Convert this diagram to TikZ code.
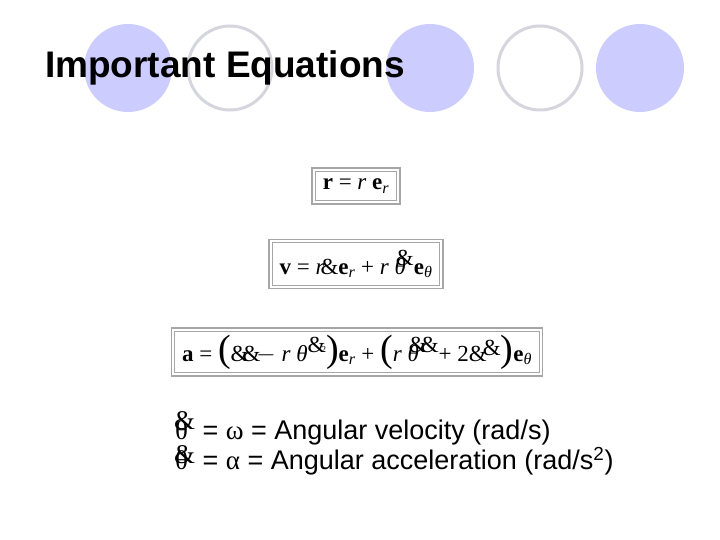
\documentclass[tikz,border=0pt]{standalone}
\usepackage{fontspec}
\setmainfont{Liberation Sans}
\newfontfamily\serif{Liberation Serif}
\newcommand{\bv}[1]{{\bfseries\upshape #1}}
\newcommand{\sub}[1]{\textsubscript{\itshape #1}}
\begin{document}
\begin{tikzpicture}[x=1pt,y=-1pt,
  fcirc/.style={fill=blue!20!white,draw=none},
  ocirc/.style={draw=blue!10!gray!30,line width=3pt},
  eqbox/.style={draw=gray!70,line width=1.3pt,double=white,double distance=2pt,inner xsep=9pt,inner ysep=9pt},
  eqf/.style={font=\serif\fontsize{23}{27}\selectfont},
  lbl/.style={anchor=west,font=\fontsize{27}{29}\selectfont,inner sep=0}]
\useasboundingbox (0,0) rectangle (720,540);
\fill[fcirc] (128,68) circle (44);
\draw[ocirc] (230,68) circle (42);
\fill[fcirc] (430,68) circle (44);
\draw[ocirc] (540,68) circle (42);
\fill[fcirc] (640,68) circle (44);
\node[anchor=west,font=\bfseries\fontsize{37}{40}\selectfont,inner sep=0] (title) at (45,68) {Important Equations};
\node[eqbox,eqf] (e1) at (356,186) {\bv{r} = \textit{r} \bv{e}\sub{r}};
\node[eqbox,eqf] (e2) at (356,264) {\bv{v} = \textit{r}\hspace{-4pt}\&\bv{e}\sub{r} + \textit{r} \textit{θ}\hspace{-10pt}\raisebox{9pt}{\&}\bv{e}\sub{θ}};
\node[eqbox,eqf,inner ysep=5pt] (e3) at (357,352) {\bv{a} = {\fontsize{38}{38}\selectfont(}\&\hspace{-6pt}\&\hspace{-4pt}$-$ \textit{r} \textit{θ}\raisebox{9pt}{\&}\hspace{-4pt}\raisebox{9pt}{\small 2}{\fontsize{38}{38}\selectfont)}\bv{e}\sub{r} + {\fontsize{38}{38}\selectfont(}\textit{r} \textit{θ}\hspace{-10pt}\raisebox{9pt}{\&\hspace{-6pt}\&}+ 2\&\hspace{-4pt}\raisebox{6pt}{\&}{\fontsize{38}{38}\selectfont)}\bv{e}\sub{θ}};
\node[lbl] (l1) at (175,428) {{\serif θ}\hspace{-14pt}\raisebox{10pt}{\serif\&}\hspace{0pt} = {\serif ω} = Angular velocity (rad/s)};
\node[lbl] (l2) at (175,460) {{\serif θ}\hspace{-14pt}\raisebox{6pt}{\serif\&}\hspace{0pt} = {\serif α} = Angular acceleration (rad/s\textsuperscript{2})};
\end{tikzpicture}
\end{document}
